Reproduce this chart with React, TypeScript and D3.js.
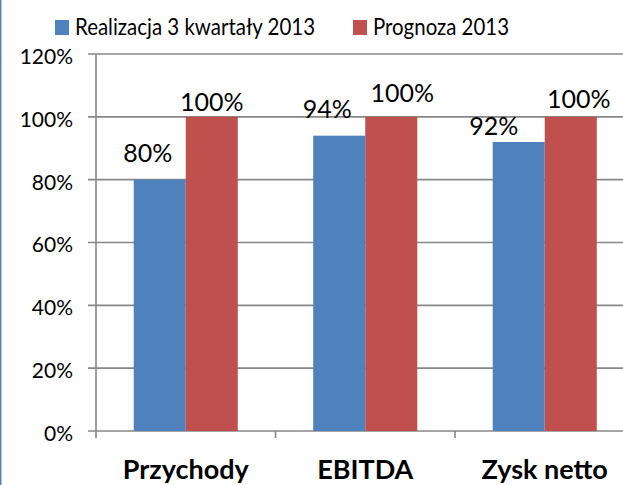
import React, { useEffect, useRef } from "react";
import * as d3 from "d3";

// chart data
const categories = ["Przychody", "EBITDA", "Zysk netto"];
const seriesNames = ["Realizacja 3 kwartały 2013", "Prognoza 2013"];
const realizacja = [0.8, 0.94, 0.92];
const prognoza = [1.0, 1.0, 1.0];
const yTicks = [0, 0.2, 0.4, 0.6, 0.8, 1.0, 1.2];
const seriesColors = ["#4F81BD", "#C0504D"];

// hand-placed data label nudges [dx, dy from bar top] like in the original sheet
const labelNudge = [
  [[-12, -18], [-12, -18], [-25, -7]],
  [[0, -6], [11, -15], [8, -9]],
];

export default function App() {
  const ref = useRef<SVGSVGElement>(null);

  useEffect(() => {
    document.body.style.margin = "0";
    drawChart();
  }, []);

  function drawChart() {
    const width = 623;
    const height = 485;
    const margin = { top: 54, left: 96, bottom: 54 };
    const bandW = 179.5;
    const font = "Lato, 'Open Sans', sans-serif";

    const svg = d3.select(ref.current).html("");
    svg.attr("width", width).attr("height", height);

    svg.append("rect").attr("width", width).attr("height", height).attr("fill", "#fff");
    // left frame edge
    svg.append("line")
      .attr("x1", 0.7).attr("x2", 0.7).attr("y1", 0).attr("y2", height)
      .attr("stroke", "#4F81BD").attr("stroke-width", 1.5);

    const series = [realizacja, prognoza];

    const x = d3.scaleBand<string>()
      .domain(categories)
      .range([margin.left, margin.left + bandW * categories.length])
      .padding(0);
    const xInner = d3.scaleBand<number>()
      .domain(d3.range(series.length))
      .range([0, x.bandwidth()])
      .paddingInner(0)
      .paddingOuter(0.725);
    const y = d3.scaleLinear().domain([0, 1.2]).range([height - margin.bottom, margin.top]);

    const gridColor = "#878787";

    // gridlines + y ticks
    const grid = svg.append("g");
    yTicks.forEach((t) => {
      grid.append("line")
        .attr("x1", margin.left - 8).attr("x2", width)
        .attr("y1", y(t)).attr("y2", y(t))
        .attr("stroke", gridColor).attr("stroke-width", 1.6);
      grid.append("text")
        .attr("x", margin.left - 23)
        .attr("y", y(t) + 2.5)
        .attr("dy", "0.35em")
        .attr("text-anchor", "end")
        .style("font-family", font)
        .style("font-size", "21px")
        .attr("fill", "#000")
        .text(d3.format(".0%")(t));
    });

    // y axis line
    svg.append("line")
      .attr("x1", margin.left).attr("x2", margin.left)
      .attr("y1", y(1.2)).attr("y2", y(0) + 7)
      .attr("stroke", gridColor).attr("stroke-width", 1.6);

    // x ticks at category boundaries
    categories.forEach((c, i) => {
      if (i === 0) return;
      svg.append("line")
        .attr("x1", x(c)!).attr("x2", x(c)!)
        .attr("y1", y(0)).attr("y2", y(0) + 7)
        .attr("stroke", gridColor).attr("stroke-width", 1.6);
    });

    // bars
    series.forEach((vals, s) => {
      svg.append("g")
        .selectAll("rect")
        .data(vals)
        .join("rect")
        .attr("x", (d, i) => x(categories[i])! + xInner(s)!)
        .attr("y", (d) => y(d))
        .attr("width", xInner.bandwidth())
        .attr("height", (d) => y(0) - y(d))
        .attr("fill", seriesColors[s]);
    });

    // data labels
    series.forEach((vals, s) => {
      svg.append("g")
        .selectAll("text")
        .data(vals)
        .join("text")
        .attr("x", (d, i) => x(categories[i])! + xInner(s)! + xInner.bandwidth() / 2 + labelNudge[s][i][0])
        .attr("y", (d, i) => y(d) + labelNudge[s][i][1])
        .attr("text-anchor", "middle")
        .style("font-family", font)
        .style("font-size", "25px")
        .attr("fill", "#000")
        .text((d) => d3.format(".0%")(d));
    });

    // category labels
    svg.append("g")
      .selectAll("text")
      .data(categories)
      .join("text")
      .attr("x", (d) => x(d)! + x.bandwidth() / 2)
      .attr("y", y(0) + 47.5)
      .attr("text-anchor", "middle")
      .style("font-family", font)
      .style("font-size", "27px")
      .style("font-weight", "bold")
      .attr("fill", "#000")
      .text((d) => d);

    // legend
    const legendX = [55, 353];
    const legendW = [240, 136];
    const legend = svg.append("g");
    seriesNames.forEach((name, s) => {
      legend.append("rect")
        .attr("x", legendX[s]).attr("y", 20)
        .attr("width", 14).attr("height", 15)
        .attr("fill", seriesColors[s]);
      legend.append("text")
        .attr("x", legendX[s] + 20)
        .attr("y", 35)
        .attr("textLength", legendW[s])
        .attr("lengthAdjust", "spacingAndGlyphs")
        .style("font-family", font)
        .style("font-size", "24px")
        .attr("fill", "#000")
        .text(name);
    });
  }

  return (
    <div>
      <svg ref={ref} style={{ display: "block" }}></svg>
    </div>
  );
}
